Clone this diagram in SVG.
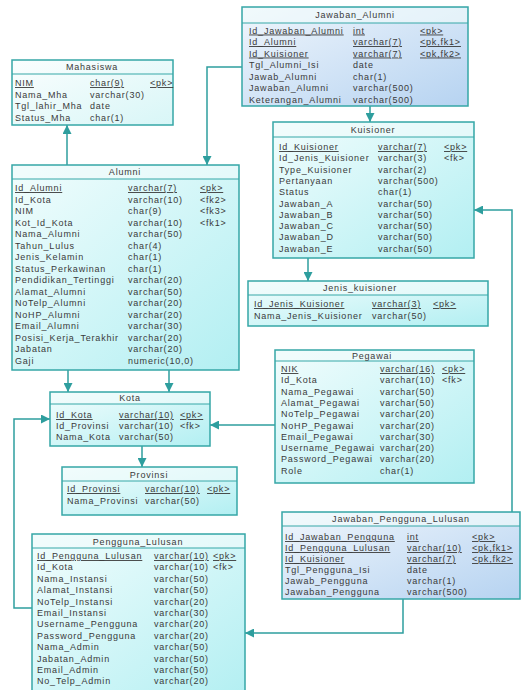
<svg xmlns="http://www.w3.org/2000/svg" width="522" height="690" viewBox="0 0 522 690">
<style>
text{font-family:"Liberation Sans",Arial,sans-serif;font-size:9px;letter-spacing:0.8px;fill:#3a3a3a}
.t{text-anchor:middle}
.pk{text-decoration:underline}
.box{fill:url(#gc);stroke:#36a7a7;stroke-width:1.5}
.boxb{fill:url(#gb);stroke:#36a7a7;stroke-width:1.5}
.boxw{fill:url(#gw);stroke:#36a7a7;stroke-width:1.5}
.hd{fill:#f2fcfc;fill-opacity:0.6}
.div{stroke:#36a7a7;stroke-width:1.2}
.c{fill:none;stroke:#2e9e9e;stroke-width:1.5;marker-end:url(#ar)}
</style>
<defs>
<linearGradient id="gc" x1="0" y1="0" x2="1" y2="1"><stop offset="0" stop-color="#f2fdfd"/><stop offset="1" stop-color="#b2eff2"/></linearGradient>
<linearGradient id="gb" x1="0" y1="0" x2="1" y2="1"><stop offset="0" stop-color="#f0f6fc"/><stop offset="1" stop-color="#b6d3f1"/></linearGradient>
<linearGradient id="gw" x1="0" y1="0" x2="1" y2="1"><stop offset="0" stop-color="#fbfefe"/><stop offset="1" stop-color="#d8f6f7"/></linearGradient>
<marker id="ar" viewBox="0 0 10 10" refX="10" refY="5" markerWidth="10" markerHeight="9" markerUnits="userSpaceOnUse" orient="auto"><path d="M0,0 L10,5 L0,10 z" fill="#2e9e9e"/></marker>
</defs>
<rect width="522" height="690" fill="#fff"/>

<g id="connectors">
<path class="c" d="M67,165 L67,125"/>
<path class="c" d="M242,67 L207,67 L207,165"/>
<path class="c" d="M370,106 L370,122"/>
<path class="c" d="M308,258 L308,281"/>
<path class="c" d="M68,370 L68,392"/>
<path class="c" d="M169,370 L169,392"/>
<path class="c" d="M275,425 L210,425"/>
<path class="c" d="M142,446 L142,467"/>
<path class="c" d="M32,608 L14,608 L14,419 L50,419"/>
<path class="c" d="M512,512 L512,210 L474,210"/>
<path class="c" d="M403,599 L403,633 L245,633"/>
</g>

<g id="Jawaban_Alumni">
<rect class="boxb" x="242" y="7" width="226" height="99"/>
<rect class="hd" x="243" y="8" width="224" height="15"/>
<line class="div" x1="242" y1="23" x2="468" y2="23"/>
<text class="t" x="355" y="18">Jawaban_Alumni</text>
<text class="pk" x="249" y="33.5">Id_Jawaban_Alumni</text><text class="pk" x="353" y="33.5">int</text><text class="pk" x="420" y="33.5">&lt;pk&gt;</text>
<text class="pk" x="249" y="45">Id_Alumni</text><text class="pk" x="353" y="45">varchar(7)</text><text class="pk" x="420" y="45">&lt;pk,fk1&gt;</text>
<text class="pk" x="249" y="56.5">Id_Kuisioner</text><text class="pk" x="353" y="56.5">varchar(7)</text><text class="pk" x="420" y="56.5">&lt;pk,fk2&gt;</text>
<text x="249" y="68">Tgl_Alumni_Isi</text><text x="353" y="68">date</text>
<text x="249" y="79.5">Jawab_Alumni</text><text x="353" y="79.5">char(1)</text>
<text x="249" y="91">Jawaban_Alumni</text><text x="353" y="91">varchar(500)</text>
<text x="249" y="102.5">Keterangan_Alumni</text><text x="353" y="102.5">varchar(500)</text>
</g>

<g id="Mahasiswa">
<rect class="boxw" x="12" y="60" width="161" height="65"/>
<line class="div" x1="12" y1="74" x2="173" y2="74"/>
<text class="t" x="92" y="70">Mahasiswa</text>
<text class="pk" x="15" y="86">NIM</text><text class="pk" x="90" y="86">char(9)</text><text class="pk" x="150" y="86">&lt;pk&gt;</text>
<text x="15" y="97.5">Nama_Mha</text><text x="90" y="97.5">varchar(30)</text>
<text x="15" y="109">Tgl_lahir_Mha</text><text x="90" y="109">date</text>
<text x="15" y="120.5">Status_Mha</text><text x="90" y="120.5">char(1)</text>
</g>

<g id="Alumni">
<rect class="box" x="12" y="165" width="227" height="205"/>
<rect class="hd" x="13" y="166" width="225" height="13"/>
<line class="div" x1="12" y1="179" x2="239" y2="179"/>
<text class="t" x="125" y="175">Alumni</text>
<text class="pk" x="15" y="191">Id_Alumni</text><text class="pk" x="128" y="191">varchar(7)</text><text class="pk" x="200" y="191">&lt;pk&gt;</text>
<text x="15" y="202.5">Id_Kota</text><text x="128" y="202.5">varchar(10)</text><text x="200" y="202.5">&lt;fk2&gt;</text>
<text x="15" y="214">NIM</text><text x="128" y="214">char(9)</text><text x="200" y="214">&lt;fk3&gt;</text>
<text x="15" y="225.5">Kot_Id_Kota</text><text x="128" y="225.5">varchar(10)</text><text x="200" y="225.5">&lt;fk1&gt;</text>
<text x="15" y="237">Nama_Alumni</text><text x="128" y="237">varchar(50)</text>
<text x="15" y="248.5">Tahun_Lulus</text><text x="128" y="248.5">char(4)</text>
<text x="15" y="260">Jenis_Kelamin</text><text x="128" y="260">char(1)</text>
<text x="15" y="271.5">Status_Perkawinan</text><text x="128" y="271.5">char(1)</text>
<text x="15" y="283">Pendidikan_Tertinggi</text><text x="128" y="283">varchar(20)</text>
<text x="15" y="294.5">Alamat_Alumni</text><text x="128" y="294.5">varchar(50)</text>
<text x="15" y="306">NoTelp_Alumni</text><text x="128" y="306">varchar(20)</text>
<text x="15" y="317.5">NoHP_Alumni</text><text x="128" y="317.5">varchar(20)</text>
<text x="15" y="329">Email_Alumni</text><text x="128" y="329">varchar(30)</text>
<text x="15" y="340.5">Posisi_Kerja_Terakhir</text><text x="128" y="340.5">varchar(20)</text>
<text x="15" y="352">Jabatan</text><text x="128" y="352">varchar(20)</text>
<text x="15" y="363.5">Gaji</text><text x="128" y="363.5">numeric(10,0)</text>
</g>

<g id="Kuisioner">
<rect class="box" x="273" y="122" width="201" height="136"/>
<rect class="hd" x="274" y="123" width="199" height="14"/>
<line class="div" x1="273" y1="137" x2="474" y2="137"/>
<text class="t" x="373" y="133">Kuisioner</text>
<text class="pk" x="279" y="150">Id_Kuisioner</text><text class="pk" x="378" y="150">varchar(7)</text><text class="pk" x="444" y="150">&lt;pk&gt;</text>
<text x="279" y="161.3">Id_Jenis_Kuisioner</text><text x="378" y="161.3">varchar(3)</text><text x="444" y="161.3">&lt;fk&gt;</text>
<text x="279" y="172.6">Type_Kuisioner</text><text x="378" y="172.6">varchar(2)</text>
<text x="279" y="183.9">Pertanyaan</text><text x="378" y="183.9">varchar(500)</text>
<text x="279" y="195.2">Status</text><text x="378" y="195.2">char(1)</text>
<text x="279" y="206.5">Jawaban_A</text><text x="378" y="206.5">varchar(50)</text>
<text x="279" y="217.8">Jawaban_B</text><text x="378" y="217.8">varchar(50)</text>
<text x="279" y="229.1">Jawaban_C</text><text x="378" y="229.1">varchar(50)</text>
<text x="279" y="240.4">Jawaban_D</text><text x="378" y="240.4">varchar(50)</text>
<text x="279" y="251.7">Jawaban_E</text><text x="378" y="251.7">varchar(50)</text>
</g>

<g id="Jenis_kuisioner">
<rect class="box" x="248" y="281" width="240" height="45"/>
<rect class="hd" x="249" y="282" width="238" height="13"/>
<line class="div" x1="248" y1="295" x2="488" y2="295"/>
<text class="t" x="360" y="291">Jenis_kuisioner</text>
<text class="pk" x="254" y="307">Id_Jenis_Kuisioner</text><text class="pk" x="372" y="307">varchar(3)</text><text class="pk" x="433" y="307">&lt;pk&gt;</text>
<text x="254" y="318.5">Nama_Jenis_Kuisioner</text><text x="372" y="318.5">varchar(50)</text>
</g>

<g id="Pegawai">
<rect class="box" x="275" y="350" width="199" height="133"/>
<rect class="hd" x="276" y="351" width="197" height="10"/>
<line class="div" x1="275" y1="361" x2="474" y2="361"/>
<text class="t" x="372" y="358.5">Pegawai</text>
<text class="pk" x="281" y="372">NIK</text><text class="pk" x="380" y="372">varchar(16)</text><text class="pk" x="442" y="372">&lt;pk&gt;</text>
<text x="281" y="383.3">Id_Kota</text><text x="380" y="383.3">varchar(10)</text><text x="442" y="383.3">&lt;fk&gt;</text>
<text x="281" y="394.6">Nama_Pegawai</text><text x="380" y="394.6">varchar(50)</text>
<text x="281" y="405.9">Alamat_Pegawai</text><text x="380" y="405.9">varchar(50)</text>
<text x="281" y="417.2">NoTelp_Pegawai</text><text x="380" y="417.2">varchar(20)</text>
<text x="281" y="428.5">NoHP_Pegawai</text><text x="380" y="428.5">varchar(20)</text>
<text x="281" y="439.8">Email_Pegawai</text><text x="380" y="439.8">varchar(30)</text>
<text x="281" y="451.1">Username_Pegawai</text><text x="380" y="451.1">varchar(20)</text>
<text x="281" y="462.4">Password_Pegawai</text><text x="380" y="462.4">varchar(20)</text>
<text x="281" y="473.7">Role</text><text x="380" y="473.7">char(1)</text>
</g>

<g id="Kota">
<rect class="box" x="50" y="392" width="160" height="54"/>
<rect class="hd" x="51" y="393" width="158" height="11"/>
<line class="div" x1="50" y1="404" x2="210" y2="404"/>
<text class="t" x="130" y="401">Kota</text>
<text class="pk" x="56" y="418">Id_Kota</text><text class="pk" x="119" y="418">varchar(10)</text><text class="pk" x="180" y="418">&lt;pk&gt;</text>
<text x="56" y="429">Id_Provinsi</text><text x="119" y="429">varchar(10)</text><text x="180" y="429">&lt;fk&gt;</text>
<text x="56" y="440">Nama_Kota</text><text x="119" y="440">varchar(50)</text>
</g>

<g id="Provinsi">
<rect class="box" x="62" y="467" width="175" height="48"/>
<rect class="hd" x="63" y="468" width="173" height="13"/>
<line class="div" x1="62" y1="481" x2="237" y2="481"/>
<text class="t" x="149" y="477.5">Provinsi</text>
<text class="pk" x="67" y="492">Id_Provinsi</text><text class="pk" x="145" y="492">varchar(10)</text><text class="pk" x="207" y="492">&lt;pk&gt;</text>
<text x="67" y="504">Nama_Provinsi</text><text x="145" y="504">varchar(50)</text>
</g>

<g id="Jawaban_Pengguna_Lulusan">
<rect class="boxb" x="282" y="512" width="238" height="87"/>
<rect class="hd" x="283" y="513" width="236" height="13"/>
<line class="div" x1="282" y1="526" x2="520" y2="526"/>
<text class="t" x="401" y="522">Jawaban_Pengguna_Lulusan</text>
<text class="pk" x="285" y="540">Id_Jawaban_Pengguna</text><text class="pk" x="407" y="540">int</text><text class="pk" x="472" y="540">&lt;pk&gt;</text>
<text class="pk" x="285" y="551">Id_Pengguna_Lulusan</text><text class="pk" x="407" y="551">varchar(10)</text><text class="pk" x="472" y="551">&lt;pk,fk1&gt;</text>
<text class="pk" x="285" y="562">Id_Kuisioner</text><text class="pk" x="407" y="562">varchar(7)</text><text class="pk" x="472" y="562">&lt;pk,fk2&gt;</text>
<text x="285" y="573">Tgl_Pengguna_Isi</text><text x="407" y="573">date</text>
<text x="285" y="584">Jawab_Pengguna</text><text x="407" y="584">varchar(1)</text>
<text x="285" y="595">Jawaban_Pengguna</text><text x="407" y="595">varchar(500)</text>
</g>

<g id="Pengguna_Lulusan">
<rect class="box" x="32" y="534" width="213" height="166"/>
<rect class="hd" x="33" y="535" width="211" height="13"/>
<line class="div" x1="32" y1="548" x2="245" y2="548"/>
<text class="t" x="138" y="544.5">Pengguna_Lulusan</text>
<text class="pk" x="37" y="559">Id_Pengguna_Lulusan</text><text class="pk" x="154" y="559">varchar(10)</text><text class="pk" x="213" y="559">&lt;pk&gt;</text>
<text x="37" y="570.4">Id_Kota</text><text x="154" y="570.4">varchar(10)</text><text x="213" y="570.4">&lt;fk&gt;</text>
<text x="37" y="581.8">Nama_Instansi</text><text x="154" y="581.8">varchar(50)</text>
<text x="37" y="593.2">Alamat_Instansi</text><text x="154" y="593.2">varchar(50)</text>
<text x="37" y="604.6">NoTelp_Instansi</text><text x="154" y="604.6">varchar(20)</text>
<text x="37" y="616">Email_Instansi</text><text x="154" y="616">varchar(30)</text>
<text x="37" y="627.4">Username_Pengguna</text><text x="154" y="627.4">varchar(20)</text>
<text x="37" y="638.8">Password_Pengguna</text><text x="154" y="638.8">varchar(20)</text>
<text x="37" y="650.2">Nama_Admin</text><text x="154" y="650.2">varchar(50)</text>
<text x="37" y="661.6">Jabatan_Admin</text><text x="154" y="661.6">varchar(50)</text>
<text x="37" y="673">Email_Admin</text><text x="154" y="673">varchar(50)</text>
<text x="37" y="684.4">No_Telp_Admin</text><text x="154" y="684.4">varchar(20)</text>
</g>
</svg>
